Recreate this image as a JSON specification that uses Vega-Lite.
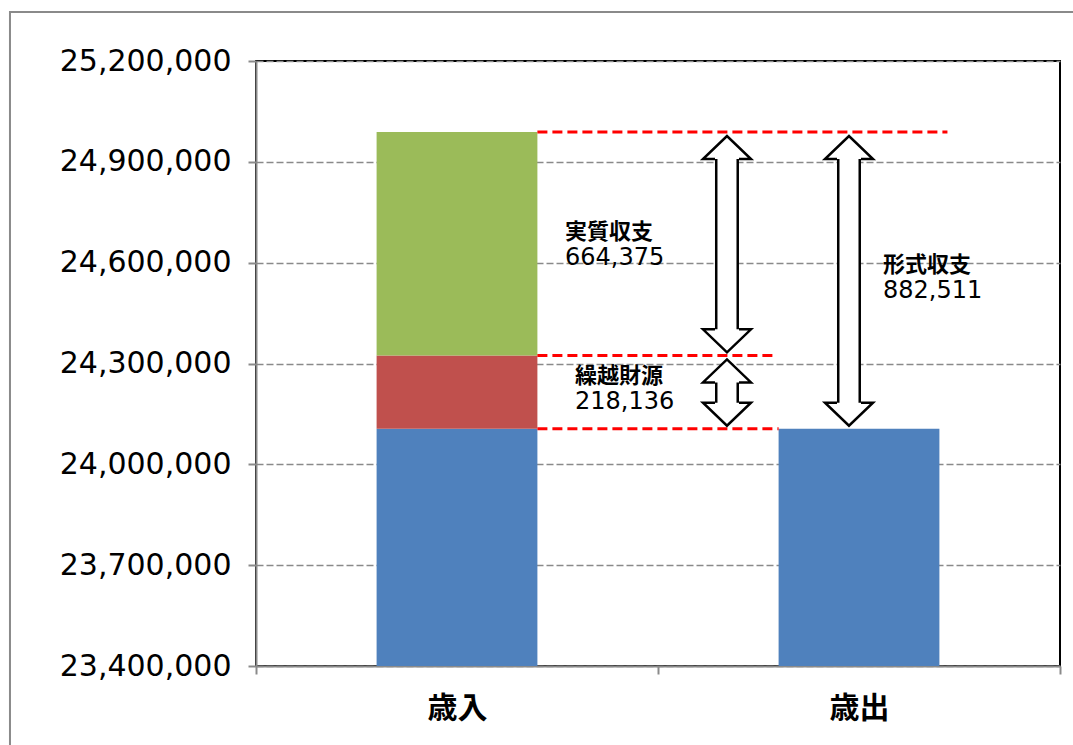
{
  "$schema": "https://vega.github.io/schema/vega-lite/v6.json",
  "width": 804,
  "height": 605,
  "autosize": {"type": "none"},
  "padding": {"left": 256, "top": 61, "right": 13, "bottom": 79},
  "background": "white",
  "config": {
    "view": {"stroke": "#000000", "strokeWidth": 2},
    "axisX": {
      "domainColor": "#8a8a8a", "domainWidth": 2,
      "tickColor": "#8a8a8a", "tickWidth": 2, "tickSize": 8, "tickBand": "extent",
      "labelFont": "Noto Sans CJK JP", "labelFontSize": 30, "labelFontWeight": "bold",
      "labelColor": "#000000", "labelPadding": 19, "labelAngle": 0, "zindex": 1
    },
    "axisY": {
      "domainColor": "#8a8a8a", "domainWidth": 2,
      "tickColor": "#8a8a8a", "tickWidth": 2, "tickSize": 8,
      "labelFont": "DejaVu Sans", "labelFontSize": 30, "labelColor": "#000000", "labelPadding": 17,
      "grid": true, "gridColor": "#8a8a8a", "gridWidth": 1.6, "gridDash": [7, 3]
    }
  },
  "datasets": {
    "budget": [
      {"cat": "歳入", "part": "base", "k": 1, "value": 24106000},
      {"cat": "歳入", "part": "carry", "k": 2, "value": 218136},
      {"cat": "歳入", "part": "real", "k": 3, "value": 664375},
      {"cat": "歳出", "part": "base", "k": 1, "value": 24106000}
    ],
    "levels": [
      {"x": 0.7, "x2": 1.72, "y": 24988511},
      {"x": 0.7, "x2": 1.294, "y": 24324136},
      {"x": 0.7, "x2": 1.3, "y": 24106000}
    ],
    "arrows": [
      {"name": "実質収支", "x": 1.1716, "top": 24988511, "bottom": 24324136},
      {"name": "繰越財源", "x": 1.1716, "top": 24324136, "bottom": 24106000},
      {"name": "形式収支", "x": 1.4751, "top": 24988511, "bottom": 24106000}
    ],
    "notes": [
      {"name": "実質収支", "amount": 664375, "x": 0.7687, "y": 24690000},
      {"name": "繰越財源", "amount": 218136, "x": 0.7935, "y": 24263000},
      {"name": "形式収支", "amount": 882511, "x": 1.5597, "y": 24593000}
    ]
  },
  "resolve": {"scale": {"x": "independent"}},
  "layer": [
    {
      "data": {"name": "budget"},
      "mark": {"type": "bar", "clip": true, "width": {"band": 0.4}},
      "encoding": {
        "x": {
          "field": "cat", "type": "nominal", "sort": ["歳入", "歳出"], "title": null,
          "scale": {"paddingInner": 0, "paddingOuter": 0}
        },
        "y": {
          "field": "value", "type": "quantitative", "stack": "zero", "title": null,
          "scale": {"domain": [23400000, 25200000], "nice": false, "zero": false},
          "axis": {
            "values": [23400000, 23700000, 24000000, 24300000, 24600000, 24900000, 25200000],
            "labelExpr": "format(datum.value, ',')"
          }
        },
        "color": {
          "field": "part", "type": "nominal", "legend": null,
          "scale": {"domain": ["base", "carry", "real"], "range": ["#4F81BD", "#C0504D", "#9BBB59"]}
        },
        "order": {"field": "k", "type": "quantitative"}
      }
    },
    {
      "layer": [
        {
          "data": {"values": [{}]},
          "mark": {"type": "rect", "filled": false, "stroke": "#8a8a8a", "strokeWidth": 2, "clip": false},
          "encoding": {
            "x": {"datum": -0.612, "type": "quantitative", "scale": {"domain": [0, 2]}, "axis": null},
            "x2": {"datum": 2.5},
            "y": {"datum": 25345800, "type": "quantitative", "title": null},
            "y2": {"datum": 22500000}
          }
        },
        {
          "data": {"name": "levels"},
          "mark": {"type": "rule", "color": "#FF0000", "strokeWidth": 3, "strokeDash": [10, 5]},
          "encoding": {
            "x": {"field": "x", "type": "quantitative", "scale": {"domain": [0, 2]}, "axis": null},
            "x2": {"field": "x2"},
            "y": {"field": "y", "type": "quantitative", "title": null}
          }
        },
        {
          "data": {"name": "arrows"},
          "mark": {"type": "rule", "color": "#000000", "strokeWidth": 24, "yOffset": 26, "y2Offset": -25},
          "encoding": {
            "x": {"field": "x", "type": "quantitative", "scale": {"domain": [0, 2]}, "axis": null},
            "y": {"field": "top", "type": "quantitative", "title": null},
            "y2": {"field": "bottom"}
          }
        },
        {
          "data": {"name": "arrows"},
          "mark": {"type": "rule", "color": "#FFFFFF", "strokeWidth": 19, "yOffset": 25, "y2Offset": -24},
          "encoding": {
            "x": {"field": "x", "type": "quantitative", "scale": {"domain": [0, 2]}, "axis": null},
            "y": {"field": "top", "type": "quantitative", "title": null},
            "y2": {"field": "bottom"}
          }
        },
        {
          "data": {"name": "arrows"},
          "mark": {
            "type": "point", "shape": "M-0.5,0.96L-1,0.96L0,0L1,0.96L0.5,0.96", "size": 2304,
            "filled": true, "fill": "#FFFFFF", "stroke": "#000000", "strokeWidth": 2.5, "opacity": 1, "yOffset": 4
          },
          "encoding": {
            "x": {"field": "x", "type": "quantitative", "scale": {"domain": [0, 2]}, "axis": null},
            "y": {"field": "top", "type": "quantitative", "title": null}
          }
        },
        {
          "data": {"name": "arrows"},
          "mark": {
            "type": "point", "shape": "M-0.5,-0.96L-1,-0.96L0,0L1,-0.96L0.5,-0.96", "size": 2304,
            "filled": true, "fill": "#FFFFFF", "stroke": "#000000", "strokeWidth": 2.5, "opacity": 1, "yOffset": -3
          },
          "encoding": {
            "x": {"field": "x", "type": "quantitative", "scale": {"domain": [0, 2]}, "axis": null},
            "y": {"field": "bottom", "type": "quantitative", "title": null}
          }
        },
        {
          "data": {"name": "notes"},
          "mark": {"type": "text", "align": "left", "baseline": "middle", "font": "Noto Sans CJK JP", "fontSize": 22, "fontWeight": "bold", "color": "#000000"},
          "encoding": {
            "x": {"field": "x", "type": "quantitative", "scale": {"domain": [0, 2]}, "axis": null},
            "y": {"field": "y", "type": "quantitative", "title": null},
            "text": {"field": "name"}
          }
        },
        {
          "data": {"name": "notes"},
          "mark": {"type": "text", "align": "left", "baseline": "middle", "dy": 26, "font": "DejaVu Sans", "fontSize": 24, "color": "#000000"},
          "encoding": {
            "x": {"field": "x", "type": "quantitative", "scale": {"domain": [0, 2]}, "axis": null},
            "y": {"field": "y", "type": "quantitative", "title": null},
            "text": {"field": "amount", "format": ","}
          }
        }
      ]
    }
  ]
}
